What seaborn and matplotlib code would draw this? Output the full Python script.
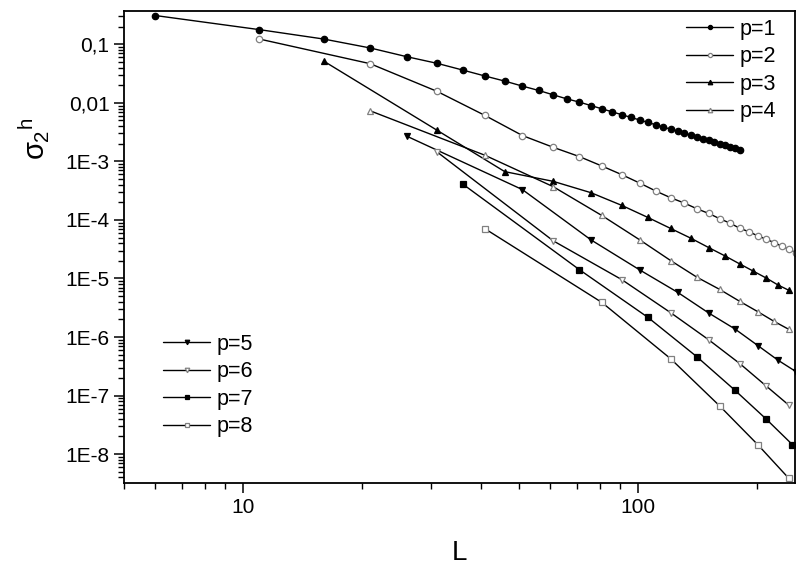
"""Variance sigma_2^h versus system size L for p = 1..8 (log-log)."""
import matplotlib
matplotlib.use("Agg")
import matplotlib.pyplot as plt
import numpy as np
import pandas as pd
import seaborn as sns
from matplotlib.ticker import FixedLocator, FixedFormatter, LogLocator, NullFormatter

L_p1 = [6, 11, 16, 21, 26, 31, 36, 41, 46, 51, 56, 61, 66, 71, 76, 81, 86, 91,
        96, 101, 106, 111, 116, 121, 126, 131, 136, 141, 146, 151, 156, 161,
        166, 171, 176, 181]
s_p1 = [0.31, 0.178, 0.123, 0.0865, 0.0613, 0.0473, 0.0363, 0.0287, 0.0235,
        0.0193, 0.0163, 0.0137, 0.0117, 0.0103, 0.00899, 0.00791, 0.00702,
        0.00627, 0.00563, 0.00509, 0.00462, 0.00421, 0.00386, 0.00354,
        0.00327, 0.00302, 0.00281, 0.00261, 0.00243, 0.00228, 0.00213,
        0.00200, 0.00188, 0.00177, 0.00168, 0.00158]

L_p2 = [11, 21, 31, 41, 51, 61, 71, 81, 91, 101, 111, 121, 131, 141, 151, 161,
        171, 181, 191, 201, 211, 221, 231, 241, 251]
s_p2 = [0.123, 0.0466, 0.0157, 0.00608, 0.00276, 0.00174, 0.00121, 8.34e-4,
        5.93e-4, 4.26e-4, 3.11e-4, 2.39e-4, 1.94e-4, 1.55e-4, 1.29e-4,
        1.05e-4, 8.8e-5, 7.2e-5, 6.27e-5, 5.35e-5, 4.68e-5, 4.11e-5,
        3.56e-5, 3.16e-5, 2.77e-5]

L_p3 = [16, 31, 46, 61, 76, 91, 106, 121, 136, 151, 166, 181, 196, 211, 226, 241]
s_p3 = [0.0518, 0.0034, 6.68e-4, 4.56e-4, 2.92e-4, 1.77e-4, 1.10e-4, 7.14e-5,
        4.88e-5, 3.37e-5, 2.43e-5, 1.77e-5, 1.33e-5, 1.02e-5, 7.76e-6, 6.27e-6]

L_p4 = [21, 41, 61, 81, 101, 121, 141, 161, 181, 201, 221, 241]
s_p4 = [0.0073, 0.00127, 3.7e-4, 1.19e-4, 4.57e-5, 2.02e-5, 1.05e-5, 6.5e-6,
        4.06e-6, 2.71e-6, 1.85e-6, 1.35e-6]

L_p5 = [26, 51, 76, 101, 126, 151, 176, 201, 226, 251]
s_p5 = [0.00269, 3.29e-4, 4.57e-5, 1.4e-5, 5.8e-6, 2.57e-6, 1.37e-6, 7.16e-7,
        4.03e-7, 2.57e-7]

L_p6 = [31, 61, 91, 121, 151, 181, 211, 241]
s_p6 = [0.00145, 4.4e-5, 9.55e-6, 2.6e-6, 8.97e-7, 3.52e-7, 1.46e-7, 6.84e-8]

L_p7 = [36, 71, 106, 141, 176, 211, 246]
s_p7 = [4.1e-4, 1.42e-5, 2.16e-6, 4.59e-7, 1.23e-7, 3.98e-8, 1.45e-8]

L_p8 = [41, 81, 121, 161, 201, 241]
s_p8 = [7.06e-5, 3.9e-6, 4.25e-7, 6.64e-8, 1.45e-8, 3.84e-9]

labels = ["p=1", "p=2", "p=3", "p=4", "p=5", "p=6", "p=7", "p=8"]
y_ticks = [1e-8, 1e-7, 1e-6, 1e-5, 1e-4, 1e-3, 1e-2, 1e-1]
y_tick_labels = ["1E-8", "1E-7", "1E-6", "1E-5", "1E-4", "1E-3", "0,01", "0,1"]
x_ticks = [10, 100]
x_tick_labels = ["10", "100"]

series = [(L_p1, s_p1), (L_p2, s_p2), (L_p3, s_p3), (L_p4, s_p4),
          (L_p5, s_p5), (L_p6, s_p6), (L_p7, s_p7), (L_p8, s_p8)]
# marker, filled?, size
marker_style = [("o", True, 4.6), ("o", False, 4.6), ("^", True, 5.0), ("^", False, 5.0),
                ("v", True, 5.0), ("v", False, 5.0), ("s", True, 4.2), ("s", False, 4.2)]

sns.set_style("ticks")
plt.rcParams["font.family"] = ["Liberation Sans", "DejaVu Sans"]
plt.rcParams["mathtext.fontset"] = "custom"
plt.rcParams["mathtext.rm"] = "Liberation Sans"
plt.rcParams["mathtext.it"] = "Liberation Sans"
for key in ["text.color", "axes.labelcolor", "xtick.color", "ytick.color", "axes.edgecolor"]:
    plt.rcParams[key] = "black"

fig = plt.figure(figsize=(8, 5.65), dpi=100)
ax = fig.add_axes([0.155, 0.145, 0.839, 0.8355])

for (L, s), lab, (mk, filled, ms) in zip(series, labels, marker_style):
    df = pd.DataFrame({"L": L, "sigma": s})
    sns.lineplot(
        data=df, x="L", y="sigma", ax=ax, estimator=None, sort=False,
        color="black", linewidth=1.0, marker=mk, markersize=ms,
        markerfacecolor="black" if filled else "white",
        markeredgecolor="black" if filled else "#808080",
        markeredgewidth=0.9, label=lab, clip_on=True,
    )

ax.set_xscale("log")
ax.set_yscale("log")
ax.set_xlim(5, 250)
ax.set_ylim(3.2e-9, 0.37)

ax.yaxis.set_major_locator(FixedLocator(y_ticks))
ax.yaxis.set_major_formatter(FixedFormatter(y_tick_labels))
ax.yaxis.set_minor_locator(LogLocator(base=10, subs=np.arange(2, 10), numticks=20))
ax.yaxis.set_minor_formatter(NullFormatter())
ax.xaxis.set_major_locator(FixedLocator(x_ticks))
ax.xaxis.set_major_formatter(FixedFormatter(x_tick_labels))
ax.xaxis.set_minor_locator(LogLocator(base=10, subs=np.arange(2, 10), numticks=20))
ax.xaxis.set_minor_formatter(NullFormatter())

ax.tick_params(which="major", direction="out", length=7, width=1.1, labelsize=15, colors="black")
ax.tick_params(which="minor", direction="out", length=4, width=1.0, colors="black")
ax.tick_params(top=False, right=False, which="both")
for sp in ax.spines.values():
    sp.set_linewidth(1.3)
    sp.set_color("black")

ax.set_xlabel("L", fontsize=20)
ax.xaxis.set_label_coords(0.5, -0.12)
ax.set_ylabel(r"$\sigma_2{}^h$", fontsize=21)
ax.yaxis.set_label_coords(-0.108, 0.73)

handles, labs = ax.get_legend_handles_labels()
if ax.get_legend() is not None:
    ax.get_legend().remove()
leg_kw = dict(loc="upper left", frameon=False, fontsize=15.5, handlelength=2.2,
              handletextpad=0.3, labelspacing=0.3, borderpad=0, borderaxespad=0,
              numpoints=1, markerscale=0.65, labelcolor="black")
fig.legend(handles[:4], labs[:4], bbox_to_anchor=(686 / 800, 1 - 19 / 565), **leg_kw)
fig.legend(handles[4:], labs[4:], bbox_to_anchor=(163 / 800, 1 - 334 / 565), **leg_kw)

fig.savefig("out.png", dpi=100)
